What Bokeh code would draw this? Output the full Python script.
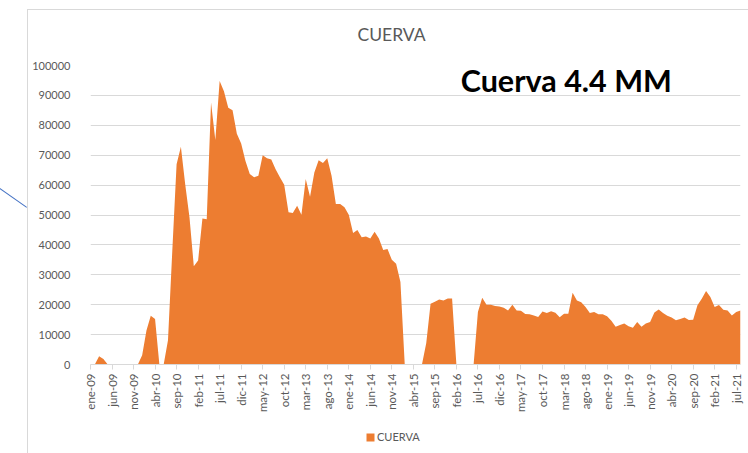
from math import pi
from bokeh.plotting import figure
from bokeh.layouts import column
from bokeh.models import (Range1d, FixedTicker, Legend, LegendItem, Label,
                          BasicTickFormatter, ColumnDataSource, InlineStyleSheet)
from bokeh.embed import file_html
from bokeh.resources import INLINE

# Monthly values, ene-09 .. ago-21
values = [
    0, 0, 2800, 1800, 0, 0, 0, 0, 0, 0, 0, 0,                                          # 2009
    3100, 11400, 16300, 15200, 0, 0, 8100, 38000, 67000, 72800, 60300, 49200,          # 2010
    32900, 34800, 48800, 48600, 87600, 75100, 94800, 91400, 85900, 85000, 77200, 73900,  # 2011
    68100, 63700, 62600, 63100, 70000, 69000, 68600, 65300, 62600, 60100, 50900, 50700,  # 2012
    53100, 50100, 62000, 56100, 64200, 68300, 67400, 69000, 63100, 53700, 53700, 52600,  # 2013
    50100, 44000, 45000, 42600, 42800, 42100, 44400, 42100, 38300, 38600, 35000, 33700,  # 2014
    27600, 0, 0, 0, 0, 0, 7200, 20300, 21000, 21700, 21400, 22100,                      # 2015
    22100, 0, 0, 0, 0, 0, 17600, 22300, 20000, 20000, 19600, 19400,                     # 2016
    19000, 18100, 20000, 18100, 18000, 16900, 16800, 16400, 15900, 17700, 17200, 17800,  # 2017
    17300, 15800, 17000, 17000, 24000, 21400, 20800, 19200, 17200, 17600, 16800, 16800,  # 2018
    16100, 14600, 12600, 13200, 13700, 12800, 12300, 14200, 12600, 13700, 14200, 17400,  # 2019
    18400, 17200, 16300, 15700, 14800, 15200, 15700, 14900, 15000, 19800, 22000, 24600,  # 2020
    22600, 19200, 19900, 18300, 18100, 16400, 17600, 18100,                              # 2021
]
month_index = list(range(len(values)))

tick_positions = [0, 5, 10, 15, 20, 25, 30, 35, 40, 45, 50, 55, 60, 65, 70, 75,
                  80, 85, 90, 95, 100, 105, 110, 115, 120, 125, 130, 135, 140, 145, 150]
tick_labels = ["ene-09", "jun-09", "nov-09", "abr-10", "sep-10", "feb-11", "jul-11",
               "dic-11", "may-12", "oct-12", "mar-13", "ago-13", "ene-14", "jun-14",
               "nov-14", "abr-15", "sep-15", "feb-16", "jul-16", "dic-16", "may-17",
               "oct-17", "mar-18", "ago-18", "ene-19", "jun-19", "nov-19", "abr-20",
               "sep-20", "feb-21", "jul-21"]
y_ticks = [0, 10000, 20000, 30000, 40000, 50000, 60000, 70000, 80000, 90000, 100000]

series_name = "CUERVA"
note_text = "Cuerva 4.4 MM"

FONT = "Lato"
GREY = "#595959"
GRID = "#d9d9d9"
ORANGE = "#ED7D31"

src = ColumnDataSource(dict(x=month_index, y=values))

p = figure(width=748, height=420, output_backend="svg", toolbar_location=None,
           x_range=Range1d(0, len(values) - 1), y_range=Range1d(0, 100000),
           min_border_left=90, min_border_right=8, min_border_top=64,
           min_border_bottom=56, title=series_name)
p.outline_line_color = None
p.background_fill_color = None
p.border_fill_color = None

r = p.varea(x="x", y1=0, y2="y", source=src, fill_color=ORANGE)

# title
p.title.align = "left"
p.title.offset = 267
p.title.standoff = 42
p.title.text_font = FONT
p.title.text_font_size = "17.5px"
p.title.text_font_style = "normal"
p.title.text_color = GREY

# x axis
xa = p.xaxis[0]
xa.ticker = FixedTicker(ticks=tick_positions)
xa.major_label_overrides = {t: l for t, l in zip(tick_positions, tick_labels)}
xa.major_label_orientation = pi / 2
xa.axis_line_color = GRID
xa.major_tick_line_color = GRID
xa.major_tick_out = 5
xa.major_tick_in = 0
xa.minor_tick_line_color = None
xa.major_label_text_font = FONT
xa.major_label_text_font_size = "11.5px"
xa.major_label_text_color = GREY
xa.major_label_standoff = 4
p.xgrid.grid_line_color = None

# y axis
ya = p.yaxis[0]
ya.ticker = FixedTicker(ticks=y_ticks)
ya.formatter = BasicTickFormatter(use_scientific=False)
ya.axis_line_color = None
ya.major_tick_line_color = None
ya.minor_tick_line_color = None
ya.major_label_standoff = 14
ya.major_label_text_font = FONT
ya.major_label_text_font_size = "11px"
ya.major_label_text_color = GREY
p.ygrid.grid_line_color = GRID
p.ygrid.ticker = FixedTicker(ticks=y_ticks)

# annotation
p.add_layout(Label(x=86, y=95300, text=note_text, text_font=FONT,
                   text_font_style="bold", text_font_size="30.5px",
                   text_baseline="middle", text_color="black"))

# legend strip below the chart (its frame is aligned with the chart frame)
lg = figure(width=748, height=33, output_backend="svg", toolbar_location=None,
            x_range=Range1d(0, 1), y_range=Range1d(0, 1),
            x_axis_location=None, y_axis_location=None,
            min_border_left=0, min_border_right=0, min_border_top=0, min_border_bottom=0)
lg.outline_line_color = None
lg.background_fill_color = None
lg.border_fill_color = None
lg.xgrid.visible = False
lg.ygrid.visible = False
# swatch-only renderer (degenerate, outside the visible range)
lr = lg.varea(x=[2, 3], y1=[0, 0], y2=[0, 0], fill_color=ORANGE)
legend = Legend(items=[LegendItem(label=series_name, renderers=[lr])],
                location=(275, 10), orientation="horizontal",
                glyph_width=10, glyph_height=10, label_text_font=FONT,
                label_text_font_size="11px", label_text_color=GREY,
                label_standoff=2, padding=0, margin=0, label_height=8,
                border_line_color=None, background_fill_alpha=0)
lg.add_layout(legend)

frame_css = InlineStyleSheet(css="""
:host { position: relative; }
:host::after { content: ""; position: absolute; left: 27px; top: 9px; right: 0; bottom: 0;
  border-left: 1px solid #d9d9d9; border-top: 1px solid #d9d9d9; pointer-events: none; }
:host::before { content: ""; position: absolute; left: 0; top: 188px; width: 33px; height: 1px;
  background: #4472C4; transform-origin: 0 0; transform: rotate(35deg); pointer-events: none; }
""")
layout = column(p, lg, spacing=0, stylesheets=[frame_css])

open("out.html", "w").write(file_html(layout, INLINE))
